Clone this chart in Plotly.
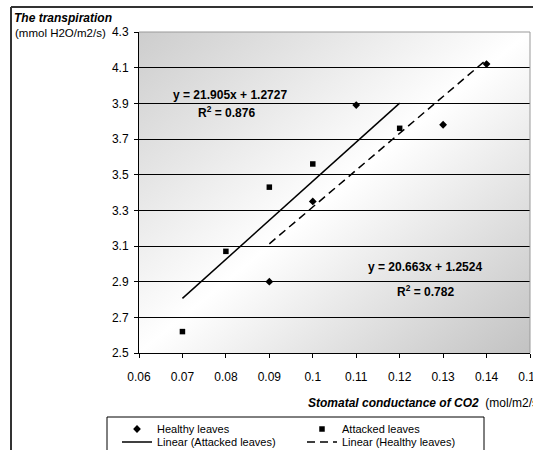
import base64
import plotly.graph_objects as go

# ---------------- data ----------------
healthy_x = [0.09, 0.10, 0.11, 0.13, 0.14]
healthy_y = [2.90, 3.35, 3.89, 3.78, 4.12]
attacked_x = [0.07, 0.08, 0.09, 0.10, 0.12]
attacked_y = [2.62, 3.07, 3.43, 3.56, 3.76]

attacked_slope, attacked_intercept, attacked_r2 = 21.905, 1.2727, 0.876
healthy_slope, healthy_intercept, healthy_r2 = 20.663, 1.2524, 0.782

x_ticks = [0.06, 0.07, 0.08, 0.09, 0.10, 0.11, 0.12, 0.13, 0.14, 0.15]
x_labels = ["0.06", "0.07", "0.08", "0.09", "0.1", "0.11", "0.12", "0.13", "0.14", "0.15"]
y_ticks = [2.5, 2.7, 2.9, 3.1, 3.3, 3.5, 3.7, 3.9, 4.1, 4.3]
y_labels = ["2.5", "2.7", "2.9", "3.1", "3.3", "3.5", "3.7", "3.9", "4.1", "4.3"]

# ---------------- layout geometry ----------------
W, H = 533, 450
ML, MR, MT, MB = 139, 3, 32, 97
PW, PH = W - ML - MR, H - MT - MB


def px(x):
    return (x - ML) / PW


def py(y):
    return 1 - (y - MT) / PH


FONT = "Liberation Sans, Arial, sans-serif"

fig = go.Figure()

fig.add_trace(go.Scatter(
    x=healthy_x, y=healthy_y, mode="markers", name="Healthy leaves",
    marker=dict(symbol="diamond", size=6, color="black"), legend="legend",
))
fig.add_trace(go.Scatter(
    x=attacked_x, y=attacked_y, mode="markers", name="Attacked leaves",
    marker=dict(symbol="square", size=5.5, color="black"), legend="legend",
))

ax0, ax1 = min(attacked_x), max(attacked_x)
fig.add_trace(go.Scatter(
    x=[ax0, ax1],
    y=[attacked_slope * ax0 + attacked_intercept, attacked_slope * ax1 + attacked_intercept],
    mode="lines", name="Linear (Attacked leaves)",
    line=dict(color="black", width=1.5), legend="legend2",
))
hx0, hx1 = min(healthy_x), max(healthy_x)
fig.add_trace(go.Scatter(
    x=[hx0, hx1],
    y=[healthy_slope * hx0 + healthy_intercept, healthy_slope * hx1 + healthy_intercept],
    mode="lines", name="Linear (Healthy leaves)",
    line=dict(color="black", width=1.5, dash="8px,5px"), legend="legend2",
))

# gradient background for plot area
svg = (
    "<svg xmlns='http://www.w3.org/2000/svg' width='100' height='100' preserveAspectRatio='none'>"
    "<defs><linearGradient id='g' x1='0' y1='0' x2='1' y2='1'>"
    "<stop offset='0' stop-color='#cdcdcd'/>"
    "<stop offset='0.5' stop-color='#ffffff'/>"
    "<stop offset='1' stop-color='#c2c2c2'/>"
    "</linearGradient></defs>"
    "<rect width='100' height='100' fill='url(#g)'/></svg>"
)
src = "data:image/svg+xml;base64," + base64.b64encode(svg.encode()).decode()
fig.add_layout_image(dict(
    source=src, xref="paper", yref="paper", x=0, y=1, sizex=1, sizey=1,
    xanchor="left", yanchor="top", sizing="stretch", layer="below",
))

annots = [
    dict(text=f"<b>y = {attacked_slope}x + {attacked_intercept}</b>", x=px(230), y=py(95)),
    dict(text=f"<b>R<sup>2</sup> = {attacked_r2:.3f}</b>", x=px(226), y=py(112)),
    dict(text=f"<b>y = {healthy_slope}x + {healthy_intercept}</b>", x=px(425), y=py(267)),
    dict(text=f"<b>R<sup>2</sup> = {healthy_r2:.3f}</b>", x=px(425), y=py(291)),
]
for a in annots:
    fig.add_annotation(text=a["text"], x=a["x"], y=a["y"], xref="paper", yref="paper",
                       showarrow=False, xanchor="center", yanchor="middle",
                       font=dict(family=FONT, size=12, color="black"))

fig.add_annotation(text="<b><i>The transpiration</i></b>", x=px(12), y=py(18),
                   xref="paper", yref="paper", showarrow=False, xanchor="left", yanchor="middle",
                   font=dict(family=FONT, size=12, color="black"))
fig.add_annotation(text="(mmol H2O/m2/s)", x=px(13), y=py(33),
                   xref="paper", yref="paper", showarrow=False, xanchor="left", yanchor="middle",
                   font=dict(family=FONT, size=11.5, color="black"))
fig.add_annotation(text="<b><i>Stomatal conductance of CO2</i></b>  (mol/m2/s)", x=px(306), y=py(403),
                   xref="paper", yref="paper", showarrow=False, xanchor="left", yanchor="middle",
                   font=dict(family=FONT, size=12, color="black"))

# outer frame (left and top edges visible)
fig.add_shape(type="line", xref="paper", yref="paper", x0=px(11), y0=py(7), x1=px(560), y1=py(7),
              line=dict(color="#333333", width=2))
fig.add_shape(type="line", xref="paper", yref="paper", x0=px(11), y0=py(7), x1=px(11), y1=py(470),
              line=dict(color="#333333", width=2))
# grey plot border top/right
fig.add_shape(type="line", xref="paper", yref="paper", x0=0, y0=1, x1=1, y1=1,
              line=dict(color="#999999", width=1))
fig.add_shape(type="line", xref="paper", yref="paper", x0=1, y0=0, x1=1, y1=1,
              line=dict(color="#999999", width=1))
# legend box
fig.add_shape(type="rect", xref="paper", yref="paper", x0=px(107), y0=py(417), x1=px(484), y1=py(470),
              line=dict(color="black", width=1), fillcolor="white", layer="above")

leg_common = dict(
    orientation="h", xanchor="left", yanchor="middle",
    bgcolor="rgba(0,0,0,0)", borderwidth=0,
    entrywidth=140, font=dict(family=FONT, size=11, color="black"),
    traceorder="normal",
)

fig.update_layout(
    width=W, height=H,
    margin=dict(l=ML, r=MR, t=MT, b=MB, autoexpand=False),
    paper_bgcolor="white", plot_bgcolor="rgba(0,0,0,0)",
    font=dict(family=FONT, size=11, color="black"),
    showlegend=True,
    legend=dict(x=px(117), y=py(429), **leg_common),
    legend2=dict(x=px(117), y=py(442), **leg_common),
    xaxis=dict(
        range=[0.06, 0.15], tickvals=x_ticks, ticktext=x_labels,
        showgrid=False, zeroline=False, showline=True, linecolor="black", linewidth=1,
        ticks="outside", ticklen=4, tickcolor="black", tickfont=dict(size=12),
        ticklabeloverflow="allow", ticklabelstandoff=9,
    ),
    yaxis=dict(
        range=[2.5, 4.3], tickvals=y_ticks, ticktext=y_labels,
        showgrid=True, gridcolor="black", gridwidth=1, zeroline=False,
        showline=True, linecolor="black", linewidth=1,
        ticks="outside", ticklen=4, tickcolor="black", tickfont=dict(size=12),
        ticklabelstandoff=3,
    ),
)

fig.write_html("out.html")
